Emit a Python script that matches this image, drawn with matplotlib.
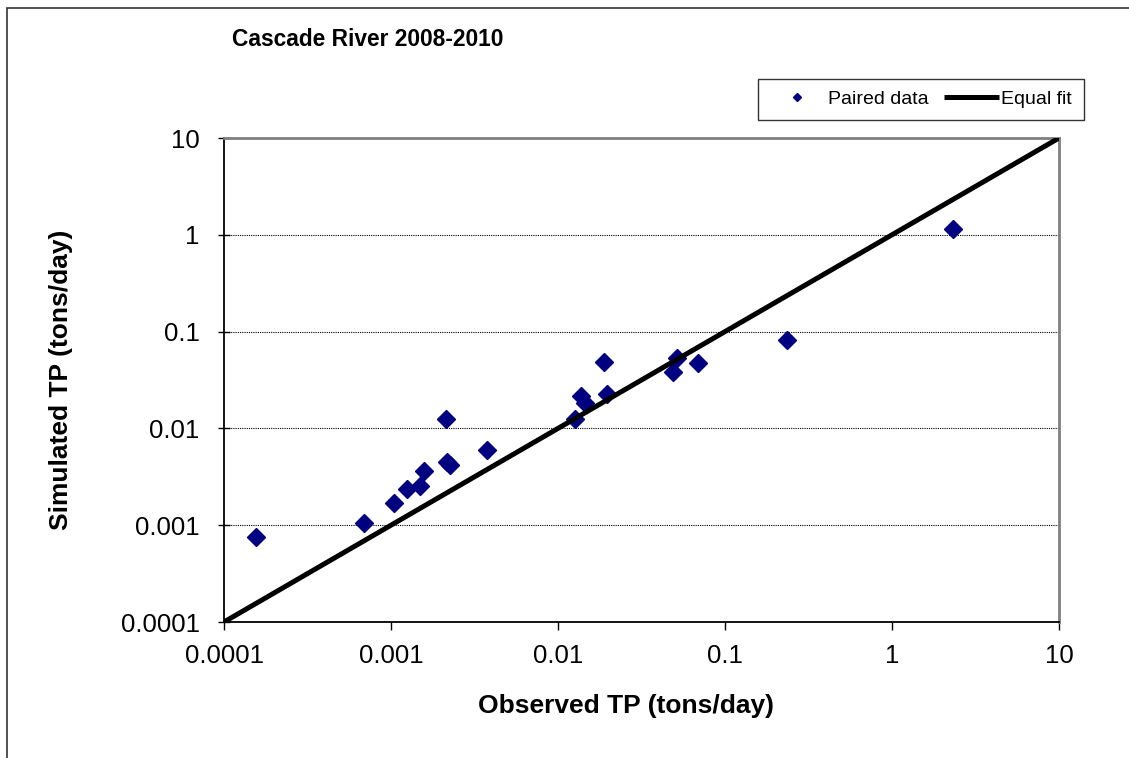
import matplotlib
matplotlib.use("Agg")
import matplotlib.pyplot as plt
import matplotlib.ticker as ticker
from matplotlib.patches import Rectangle

plt.rcParams['font.family'] = ['Liberation Sans', 'DejaVu Sans']

# observed vs simulated total phosphorus (tons/day)
observed = [0.000156, 0.000692, 0.00104, 0.00125, 0.00150, 0.00158, 0.00214,
            0.00215, 0.00225, 0.00374, 0.0127, 0.0137, 0.0146, 0.0189,
            0.0196, 0.0486, 0.0519, 0.0689, 0.236, 2.33]
simulated = [0.000755, 0.00105, 0.00168, 0.00237, 0.00256, 0.00366, 0.0124,
             0.00453, 0.00416, 0.00598, 0.0124, 0.0216, 0.0182, 0.0489,
             0.0225, 0.0386, 0.0530, 0.0478, 0.0819, 1.14]
fit_line = [0.0001, 10]
tick_vals = [0.0001, 0.001, 0.01, 0.1, 1, 10]

W, H = 1129, 758
fig = plt.figure(figsize=(W / 100, H / 100), dpi=100)
ax = fig.add_axes([224 / W, 1 - 622 / H, 835 / W, 484 / H])

# outer chart frame (cut off on the right and bottom)
fig.patches.append(Rectangle((7 / W, -0.1), 1.2, 1.1 - 8 / H, transform=fig.transFigure,
                             fill=False, edgecolor='#333333', linewidth=1.2))

ax.plot(observed, simulated, linestyle='none', marker='D', markersize=8.8,
        color='#000080', label='Paired data', zorder=3)
ax.plot(fit_line, fit_line, color='black', linewidth=3.6, label='Equal fit',
        zorder=4, solid_capstyle='butt')

ax.set_xscale('log')
ax.set_yscale('log')
ax.set_xlim(0.0001, 10)
ax.set_ylim(0.0001, 10)
ax.set_xticks(tick_vals)
ax.set_yticks(tick_vals)
fmt = ticker.FuncFormatter(lambda v, p: '%g' % v)
ax.xaxis.set_major_formatter(fmt)
ax.yaxis.set_major_formatter(fmt)
ax.xaxis.set_minor_locator(ticker.NullLocator())
ax.yaxis.set_minor_locator(ticker.NullLocator())
ax.tick_params(axis='x', direction='out', length=6, width=1, pad=10, labelsize=18.5)
ax.tick_params(axis='y', direction='inout', length=9, width=1, pad=13, labelsize=18.5)

# dotted horizontal grid only
for v in tick_vals[1:-1]:
    ax.axhline(v, color='black', linewidth=0.8, linestyle=(0, (1, 1)), zorder=1)

for side in ['top', 'right']:
    ax.spines[side].set_color('#808080')
    ax.spines[side].set_linewidth(2)
for side in ['left', 'bottom']:
    ax.spines[side].set_color('black')
    ax.spines[side].set_linewidth(1.3)

ax.set_xlabel('Observed TP (tons/day)', fontsize=19, fontweight='bold')
ax.set_ylabel('Simulated TP (tons/day)', fontsize=19, fontweight='bold')
ax.xaxis.set_label_coords((626 - 224) / 835, (622 - 706) / 484)
ax.xaxis.label.set_va('center')
ax.yaxis.set_label_coords((61 - 224) / 835, 0.5)
ax.yaxis.label.set_va('center')

fig.text(232 / W, 1 - 40 / H, 'Cascade River 2008-2010', fontsize=16.4,
         fontweight='bold', ha='left', va='center')

leg = ax.legend(loc='center', bbox_to_anchor=(921 / W, 1 - 99.5 / H),
                bbox_transform=fig.transFigure, ncol=2, fontsize=14,
                frameon=True, fancybox=False, markerscale=0.5,
                handlelength=2.85, handletextpad=0.12, columnspacing=0.8,
                borderpad=0.6, borderaxespad=0)
leg.get_frame().set_edgecolor('black')
leg.get_frame().set_linewidth(1)

fig.savefig('out.png', dpi=100)
